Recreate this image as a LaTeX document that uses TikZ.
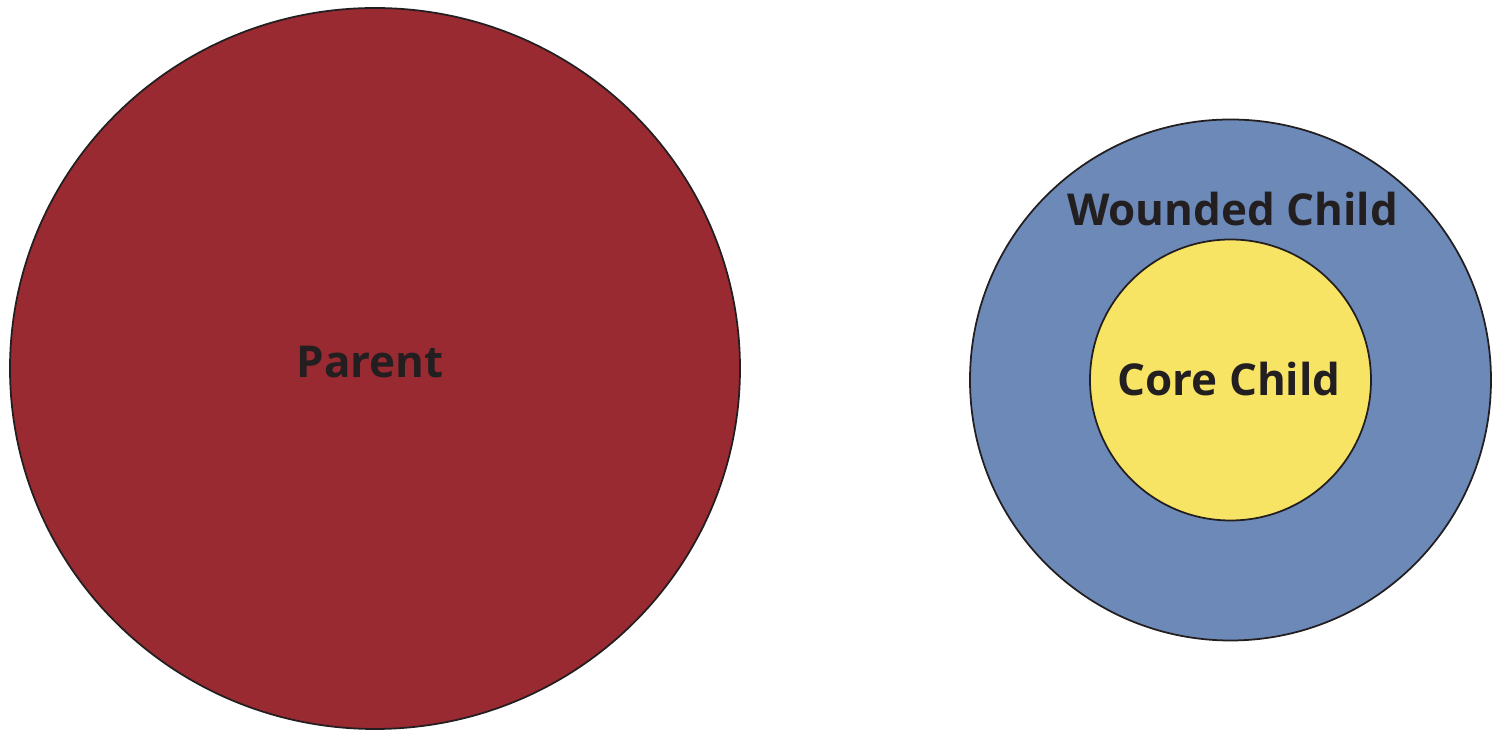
\documentclass[tikz,border=0pt]{standalone}
\usepackage{fontspec}
\setmainfont{Open Sans}
\usepackage{tikz}
\usetikzlibrary{positioning,shapes.geometric}
\definecolor{parentred}{RGB}{154,42,50}
\definecolor{woundblue}{RGB}{108,137,184}
\definecolor{coreyellow}{RGB}{247,228,100}
\definecolor{inkdark}{RGB}{35,31,32}
\tikzset{
  ring/.style={circle,draw=inkdark,line width=0.5pt,inner sep=0pt},
  tag/.style={font=\fontsize{12.5}{15}\selectfont\bfseries,text=inkdark,anchor=base,inner sep=0pt},
}
\begin{document}
\begin{tikzpicture}
  \useasboundingbox (0,0) rectangle (15,7.39);
  \node[ring,ellipse,fill=parentred,minimum width=7.30cm,minimum height=7.21cm] (parent) at (3.75,3.705) {};
  \node[ring,fill=woundblue,minimum size=5.21cm] (wounded) at (12.305,3.59) {};
  \node[ring,fill=coreyellow,minimum size=2.81cm] (core) at (wounded.center) {};
  \node[tag] (parentlbl) at (3.70,3.61) {Parent};
  \node[tag] (woundedlbl) at (12.325,5.13) {Wounded Child};
  \node[tag] (corelbl) at (12.29,3.43) {Core Child};
\end{tikzpicture}
\end{document}
